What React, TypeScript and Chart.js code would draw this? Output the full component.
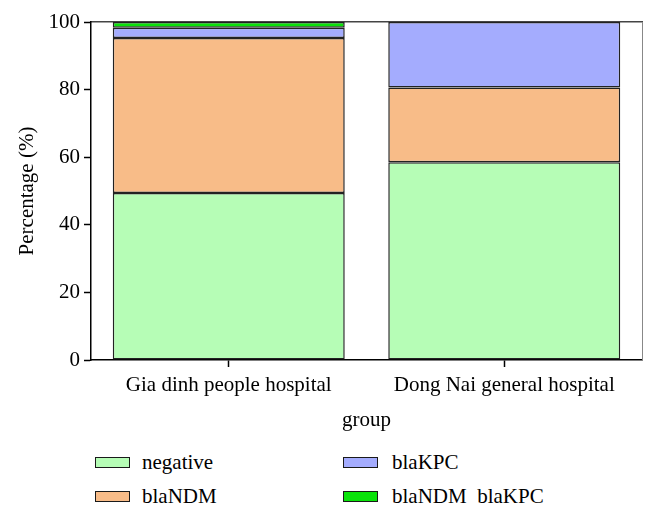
import React, { useEffect, useRef } from "react";
import { Chart, registerables } from "chart.js";

Chart.register(...registerables);

const categories = ["Gia dinh people hospital", "Dong Nai general hospital"];
const seriesNames = ["negative", "blaNDM", "blaKPC", "blaNDM  blaKPC"];
const negativeValues = [49.4, 58.5];
const ndmValues = [45.9, 22.1];
const kpcValues = [3.0, 19.4];
const bothValues = [1.7, 0];
const yTicks = [0, 20, 40, 60, 80, 100];

const colors = ["#b6fdb6", "#f8bc88", "#a4acfe", "#0ae30a"];
const FONT = "'Liberation Serif', 'DejaVu Serif', serif";

export default function App() {
  const ref = useRef<HTMLCanvasElement | null>(null);

  useEffect(() => {
    document.body.style.margin = "0";
    const values = [negativeValues, ndmValues, kpcValues, bothValues];
    const chart = new Chart(ref.current!, {
      type: "bar",
      data: {
        labels: categories,
        datasets: seriesNames.map((name, i) => ({
          label: name,
          data: values[i],
          backgroundColor: colors[i],
          borderColor: "#222",
          borderWidth: 1.5,
          borderSkipped: false,
          barPercentage: 0.842,
          categoryPercentage: 1,
        })),
      },
      options: {
        animation: false,
        responsive: false,
        maintainAspectRatio: false,
        layout: { padding: { top: 22, right: 16, left: 0, bottom: 0 } },
        plugins: { legend: { display: false }, tooltip: { enabled: false } },
        scales: {
          x: {
            stacked: true,
            position: "bottom",
            grid: {
              offset: false,
              drawOnChartArea: false,
              drawTicks: true,
              tickLength: 7,
              tickColor: "#000",
              tickWidth: 1.5,
            },
            border: { color: "#000", width: 1.5 },
            ticks: {
              color: "#000",
              padding: 6,
              font: { family: FONT, size: 21 },
            },
            title: {
              display: true,
              text: "group",
              color: "#000",
              font: { family: FONT, size: 21 },
              padding: { top: 0, bottom: 7 },
            },
            afterFit: (s: any) => {
              s.height = 80;
            },
          },
          xTop: {
            position: "top",
            grid: { display: false, drawTicks: false },
            border: { color: "#444", width: 1.5 },
            ticks: { display: false },
            afterFit: (s: any) => {
              s.height = 0;
            },
          },
          y: {
            stacked: true,
            min: 0,
            max: 100,
            afterBuildTicks: (s: any) => {
              s.ticks = yTicks.map((v) => ({ value: v }));
            },
            grid: {
              drawOnChartArea: false,
              tickLength: 7,
              tickColor: "#000",
              tickWidth: 1.5,
            },
            border: { color: "#000", width: 1.5 },
            ticks: {
              color: "#000",
              padding: 4,
              font: { family: FONT, size: 21 },
            },
            title: {
              display: true,
              text: "Percentage (%)",
              color: "#000",
              font: { family: FONT, size: 21 },
              padding: { top: 15, bottom: 0 },
            },
            afterFit: (s: any) => {
              s.width = 91;
            },
          },
          yRight: {
            position: "right",
            min: 0,
            max: 100,
            grid: { display: false, drawTicks: false },
            border: { color: "#888", width: 1 },
            ticks: { display: false },
            afterFit: (s: any) => {
              s.width = 0;
            },
          },
        },
      },
    });
    return () => chart.destroy();
  }, []);

  const legendPos = [
    { left: 95, top: 462 },
    { left: 95, top: 496 },
    { left: 343, top: 462 },
    { left: 343, top: 496 },
  ];

  return (
    <div style={{ position: "relative", width: 658, height: 517, background: "#fff" }}>
      <canvas ref={ref} width={658} height={440} style={{ position: "absolute", left: 0, top: 0, width: 658, height: 440 }} />
      {seriesNames.map((name, i) => (
        <div
          key={name}
          style={{
            position: "absolute",
            left: legendPos[i].left,
            top: legendPos[i].top - 13,
            display: "flex",
            alignItems: "center",
            fontFamily: FONT,
            fontSize: 21,
            color: "#000",
            whiteSpace: "pre",
            height: 26,
          }}
        >
          <span
            style={{
              display: "inline-block",
              width: 33,
              height: 9,
              background: colors[i],
              border: "1.5px solid #1a1a1a",
              marginRight: i >= 2 ? 14 : 12,
            }}
          />
          <span>{name}</span>
        </div>
      ))}
    </div>
  );
}
